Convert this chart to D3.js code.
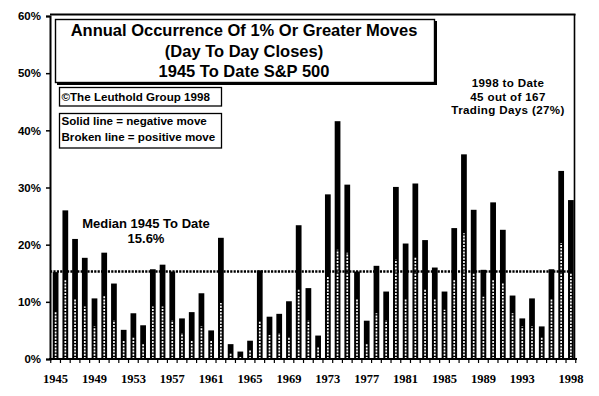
<!DOCTYPE html>
<html>
<head>
<meta charset="utf-8">
<script src="https://cdn.jsdelivr.net/npm/d3@7"></script>
<style>
  html, body { margin: 0; padding: 0; background: #fff; }
  svg { display: block; }
  text { font-family: "Liberation Sans", Arial, sans-serif; font-weight: bold; fill: #000; }
  .serif { font-family: "Liberation Serif", "Times New Roman", serif; }
</style>
</head>
<body>
<svg id="chart" width="599" height="396"></svg>
<script>
// ---- data ----
const years = [1945,1946,1947,1948,1949,1950,1951,1952,1953,1954,
               1955,1956,1957,1958,1959,1960,1961,1962,1963,1964,
               1965,1966,1967,1968,1969,1970,1971,1972,1973,1974,
               1975,1976,1977,1978,1979,1980,1981,1982,1983,1984,
               1985,1986,1987,1988,1989,1990,1991,1992,1993,1994,
               1995,1996,1997,1998];
// total occurrence (solid bar), % of trading days
const totals = [15.2,26.0,21.0,17.7,10.6,18.6,13.2,5.1,8.0,5.9,
                15.7,16.5,15.3,7.1,8.2,11.5,5.0,21.2,2.6,1.3,
                3.2,15.5,7.4,7.9,10.1,23.4,12.4,4.1,28.8,41.6,
                30.5,15.3,6.7,16.3,11.8,30.1,20.2,30.7,20.8,16.0,
                11.8,22.9,35.8,26.1,15.6,27.4,22.6,11.1,7.1,10.6,
                5.7,15.7,32.9,27.8];
// positive-move portion (broken line)
const positives = [8.3,14.0,10.4,9.2,5.7,11.2,6.8,3.3,3.9,2.8,
                   9.2,9.2,6.8,4.5,3.3,5.7,3.3,9.8,1.0,0.5,
                   1.5,6.5,4.2,4.5,3.9,12.1,6.8,2.2,14.4,19.1,
                   18.6,10.4,2.8,8.0,6.8,17.4,10.4,17.9,12.1,10.4,
                   8.6,13.9,22.0,15.0,10.9,13.9,13.3,8.0,5.7,5.7,
                   3.9,10.4,20.3,15.0];
const medianLevel = 15.3;
const yTicks = [0,10,20,30,40,50,60];
const xTickYears = [1945,1949,1953,1957,1961,1965,1969,1973,1977,1981,1985,1989,1993,1998];

const titleLines = ["Annual Occurrence Of 1% Or Greater Moves", "(Day To Day Closes)", "1945 To Date S&P 500"];
const copyrightText = "\u00A9The Leuthold Group 1998";
const legendLines = ["Solid line = negative move", "Broken line = positive move"];
const medianLines = ["Median 1945 To Date", "15.6%"];
const recentLines = ["1998 to Date", "45 out of 167", "Trading Days (27%)"];

// ---- layout ----
const svg = d3.select("#chart");
const x = d3.scaleBand().domain(years).range([50.5, 576]).paddingInner(0.41).paddingOuter(0.23);
const y = d3.scaleLinear().domain([0, 60]).range([359, 16]);

const rows = years.map((yr, i) => ({year: yr, total: totals[i], pos: positives[i]}));

// frame (top & right)
svg.append("line").attr("x1", 50).attr("x2", 575.5).attr("y1", 14.5).attr("y2", 14.5)
  .attr("stroke", "#000").attr("stroke-width", 2);
svg.append("line").attr("x1", 574.5).attr("x2", 574.5).attr("y1", 14).attr("y2", 359)
  .attr("stroke", "#000").attr("stroke-width", 1.6);

// bars
svg.append("g").selectAll("rect").data(rows).join("rect")
  .attr("x", d => x(d.year))
  .attr("width", x.bandwidth())
  .attr("y", d => y(d.total))
  .attr("height", d => y(0) - y(d.total))
  .attr("fill", "#000");

// broken (positive) lines inside bars
svg.append("g").selectAll("line").data(rows).join("line")
  .attr("x1", d => x(d.year) + x.bandwidth() / 2)
  .attr("x2", d => x(d.year) + x.bandwidth() / 2)
  .attr("y1", y(0))
  .attr("y2", d => y(d.pos))
  .attr("stroke", "#fff")
  .attr("stroke-width", 1.7)
  .attr("stroke-dasharray", "2,1.2");

// median line
svg.append("line")
  .attr("x1", 50).attr("x2", 568)
  .attr("y1", y(medianLevel)).attr("y2", y(medianLevel))
  .attr("stroke", "#000").attr("stroke-width", 2.4)
  .attr("stroke-dasharray", "2.2,1.2");

// y axis
const yAxis = d3.axisLeft(y).tickValues(yTicks).tickFormat(d => d + "%").tickSize(4).tickPadding(5);
const gy = svg.append("g").attr("transform", "translate(50,0)").call(yAxis);
gy.select(".domain").attr("stroke", "#000").attr("stroke-width", 2);
gy.selectAll(".tick line").attr("stroke", "#000").attr("stroke-width", 1.5);
gy.selectAll(".tick text").attr("font-size", 11.5).attr("fill", "#000")
  .style("font-family", "'Liberation Sans', Arial, sans-serif").style("font-weight", "bold");

// x axis (ticks between bars)
const gx = svg.append("g").attr("transform", "translate(0,359)");
gx.append("line").attr("x1", 49).attr("x2", 577).attr("y1", 0).attr("y2", 0)
  .attr("stroke", "#000").attr("stroke-width", 2);
const boundaries = years.map(yr => x(yr) - x.step() * x.paddingInner() / 2);
boundaries.push(x(years[years.length - 1]) + x.bandwidth() + x.step() * x.paddingInner() / 2);
gx.selectAll("line.tk").data(boundaries).join("line").attr("class", "tk")
  .attr("x1", d => d).attr("x2", d => d).attr("y1", 0).attr("y2", 4)
  .attr("stroke", "#000").attr("stroke-width", 1.2);
gx.selectAll("text").data(xTickYears).join("text")
  .attr("class", "serif")
  .attr("x", d => x(d) + x.bandwidth() / 2)
  .attr("y", 24)
  .attr("text-anchor", "middle")
  .attr("font-size", 12.5)
  .text(d => d);

// title box with shadow
svg.append("rect").attr("x", 57).attr("y", 21).attr("width", 380).attr("height", 64).attr("fill", "#000");
svg.append("rect").attr("x", 55.5).attr("y", 19.5).attr("width", 379).attr("height", 63)
  .attr("fill", "#fff").attr("stroke", "#000").attr("stroke-width", 1.4);
svg.append("g").selectAll("text").data(titleLines).join("text")
  .attr("x", 244).attr("y", (d, i) => 36 + i * 20.5)
  .attr("text-anchor", "middle").attr("font-size", 16.5)
  .text(d => d);

// copyright box
svg.append("rect").attr("x", 59.5).attr("y", 87.5).attr("width", 162).attr("height", 18.5)
  .attr("fill", "#fff").attr("stroke", "#000").attr("stroke-width", 1.3);
svg.append("text").attr("x", 61.5).attr("y", 100.5).attr("font-size", 11.6).text(copyrightText);

// legend box
svg.append("rect").attr("x", 59.5).attr("y", 113.5).attr("width", 162).attr("height", 34.5)
  .attr("fill", "#fff").attr("stroke", "#000").attr("stroke-width", 1.3);
svg.append("g").selectAll("text").data(legendLines).join("text")
  .attr("x", 61.5).attr("y", (d, i) => 125 + i * 16)
  .attr("font-size", 11.6).text(d => d);

// median annotation
svg.append("g").selectAll("text").data(medianLines).join("text")
  .attr("x", 146).attr("y", (d, i) => 228 + i * 15)
  .attr("text-anchor", "middle").attr("font-size", 13).text(d => d);

// recent annotation
svg.append("g").selectAll("text").data(recentLines).join("text")
  .attr("x", 508).attr("y", (d, i) => 87.3 + i * 13.4)
  .attr("text-anchor", "middle").attr("font-size", 11.6)
  .attr("letter-spacing", 0.35).text(d => d);
</script>
</body>
</html>
